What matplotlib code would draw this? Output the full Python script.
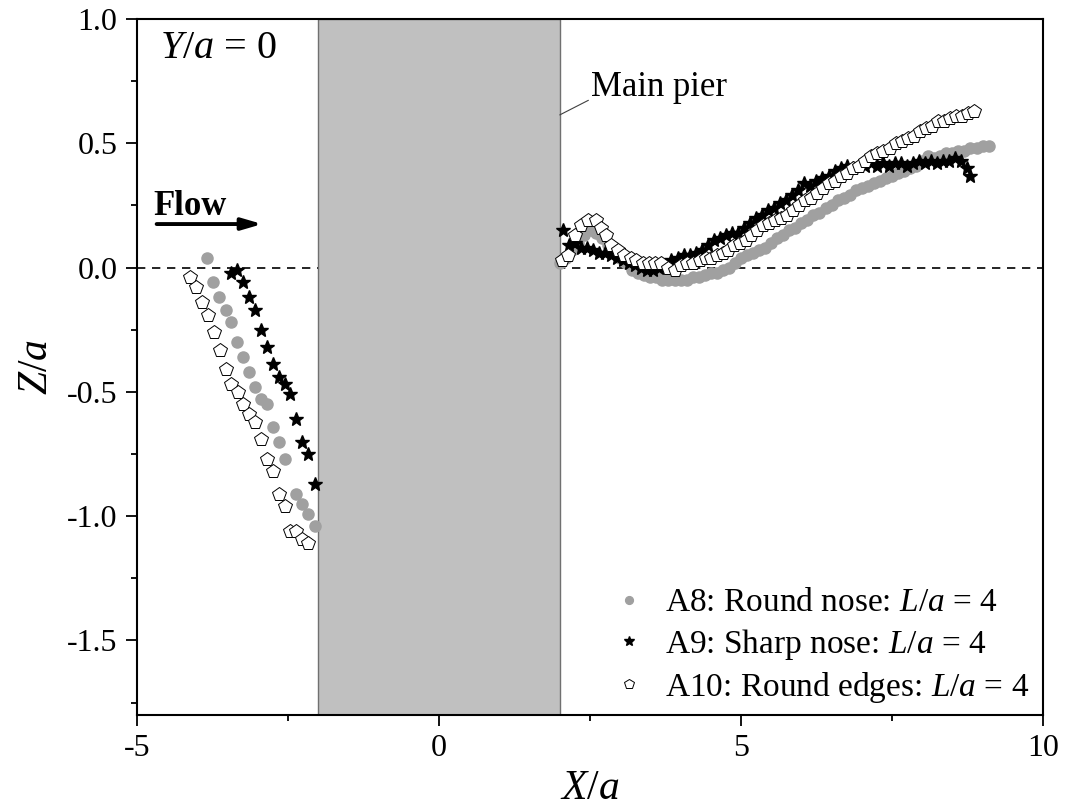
import matplotlib.pyplot as plt
from matplotlib.ticker import MultipleLocator

plt.rcParams["font.family"] = ["Liberation Serif", "DejaVu Serif"]
plt.rcParams["mathtext.fontset"] = "custom"
plt.rcParams["mathtext.it"] = "Liberation Serif:italic"
plt.rcParams["mathtext.rm"] = "Liberation Serif"
plt.rcParams["axes.unicode_minus"] = False

# A8: round nose (upstream side, then downstream side)
a8_x_up = [-3.84, -3.74, -3.64, -3.53, -3.44, -3.34, -3.25, -3.15, -3.05, -2.95,
           -2.85, -2.75, -2.65, -2.55, -2.36, -2.26, -2.16, -2.06]
a8_z_up = [0.04, -0.06, -0.12, -0.17, -0.22, -0.30, -0.36, -0.42, -0.48, -0.53,
           -0.55, -0.64, -0.70, -0.77, -0.91, -0.95, -0.99, -1.04]
a8_x_dn = [2.0, 2.1, 2.2, 2.3, 2.4, 2.5, 2.6, 2.7, 2.8, 2.9,
           3.0, 3.1, 3.2, 3.3, 3.4, 3.5, 3.6, 3.7, 3.8, 3.9,
           4.0, 4.1, 4.2, 4.3, 4.4, 4.5, 4.6, 4.7, 4.8, 4.9,
           5.0, 5.1, 5.2, 5.3, 5.4, 5.5, 5.6, 5.7, 5.8, 5.9,
           6.0, 6.1, 6.2, 6.3, 6.4, 6.5, 6.6, 6.7, 6.8, 6.9,
           7.0, 7.1, 7.2, 7.3, 7.4, 7.5, 7.6, 7.7, 7.8, 7.9,
           8.0, 8.1, 8.2, 8.3, 8.4, 8.5, 8.6, 8.7, 8.8, 8.9, 9.0, 9.1]
a8_z_dn = [0.02, 0.04, 0.07, 0.10, 0.13, 0.15, 0.14, 0.12, 0.09, 0.06,
           0.04, 0.02, -0.01, -0.02, -0.03, -0.04, -0.04, -0.05, -0.05, -0.05,
           -0.05, -0.05, -0.04, -0.04, -0.03, -0.02, -0.02, -0.01, 0.00, 0.02,
           0.04, 0.05, 0.06, 0.07, 0.08, 0.10, 0.12, 0.13, 0.15, 0.16,
           0.18, 0.19, 0.21, 0.22, 0.24, 0.25, 0.27, 0.28, 0.29, 0.31,
           0.32, 0.33, 0.34, 0.35, 0.36, 0.37, 0.38, 0.39, 0.40, 0.41,
           0.43, 0.45, 0.44, 0.45, 0.46, 0.46, 0.47, 0.47, 0.48, 0.48, 0.49, 0.49]

# A9: sharp nose
a9_x_up = [-3.44, -3.35, -3.25, -3.15, -3.04, -2.95, -2.85, -2.75, -2.65, -2.55,
           -2.46, -2.36, -2.26, -2.16, -2.06]
a9_z_up = [-0.02, -0.01, -0.06, -0.12, -0.17, -0.25, -0.32, -0.39, -0.44, -0.47,
           -0.51, -0.61, -0.70, -0.75, -0.87]
a9_x_dn = [2.05, 2.15, 2.25, 2.35, 2.45, 2.55, 2.65, 2.75, 2.85, 2.95,
           3.05, 3.15, 3.25, 3.35, 3.45, 3.55, 3.65, 3.75, 3.85, 3.95,
           4.05, 4.15, 4.25, 4.35, 4.45, 4.55, 4.65, 4.75, 4.85, 4.95,
           5.05, 5.15, 5.25, 5.35, 5.45, 5.55, 5.65, 5.75, 5.85, 5.95,
           6.05, 6.15, 6.25, 6.35, 6.45, 6.55, 6.65, 6.75, 6.85, 6.95,
           7.05, 7.15, 7.25, 7.35, 7.45, 7.55, 7.65, 7.75, 7.85, 7.95,
           8.05, 8.15, 8.25, 8.35, 8.45, 8.55, 8.65, 8.75, 8.80]
a9_z_dn = [0.15, 0.09, 0.10, 0.08, 0.08, 0.07, 0.06, 0.06, 0.05, 0.04,
           0.03, 0.02, 0.01, 0.00, -0.01, -0.01, 0.00, 0.01, 0.03, 0.04,
           0.05, 0.05, 0.06, 0.07, 0.09, 0.11, 0.12, 0.13, 0.14, 0.14,
           0.16, 0.18, 0.20, 0.21, 0.23, 0.24, 0.26, 0.27, 0.29, 0.31,
           0.34, 0.33, 0.35, 0.36, 0.37, 0.39, 0.40, 0.41, 0.40, 0.41,
           0.41, 0.42, 0.41, 0.42, 0.41, 0.42, 0.42, 0.41, 0.42, 0.43,
           0.42, 0.43, 0.42, 0.43, 0.43, 0.44, 0.43, 0.40, 0.37]

# A10: round edges
a10_x_up = [-4.12, -4.02, -3.92, -3.82, -3.73, -3.63, -3.53, -3.44, -3.33, -3.24,
            -3.14, -3.04, -2.95, -2.85, -2.75, -2.65, -2.55, -2.46, -2.36, -2.26, -2.16]
a10_z_up = [-0.04, -0.08, -0.14, -0.19, -0.26, -0.33, -0.41, -0.47, -0.50, -0.55,
            -0.59, -0.62, -0.69, -0.77, -0.82, -0.91, -0.96, -1.06, -1.06, -1.09, -1.11]
a10_x_dn = [2.03, 2.14, 2.25, 2.35, 2.47, 2.60, 2.69, 2.77, 2.85, 2.96,
            3.07, 3.18, 3.27, 3.38, 3.48, 3.58, 3.68, 3.79, 3.90, 4.00,
            4.10, 4.20, 4.32, 4.42, 4.51, 4.60, 4.70, 4.79, 4.88, 4.98,
            5.08, 5.17, 5.27, 5.37, 5.47, 5.56, 5.66, 5.76, 5.86, 5.96,
            6.06, 6.16, 6.26, 6.36, 6.46, 6.56, 6.66, 6.76, 6.86, 6.96,
            7.06, 7.16, 7.26, 7.36, 7.46, 7.56, 7.66, 7.76, 7.86, 7.96,
            8.06, 8.16, 8.26, 8.36, 8.46, 8.56, 8.66, 8.76, 8.86]
a10_z_dn = [0.03, 0.05, 0.13, 0.17, 0.19, 0.19, 0.16, 0.13, 0.09, 0.07,
            0.05, 0.04, 0.03, 0.02, 0.02, 0.02, 0.02, 0.00, -0.01, 0.01,
            0.02, 0.02, 0.03, 0.04, 0.04, 0.05, 0.06, 0.07, 0.09, 0.10,
            0.11, 0.13, 0.15, 0.17, 0.18, 0.19, 0.20, 0.21, 0.23, 0.25,
            0.27, 0.28, 0.30, 0.32, 0.34, 0.35, 0.37, 0.38, 0.40, 0.41,
            0.43, 0.45, 0.46, 0.47, 0.48, 0.50, 0.51, 0.52, 0.53, 0.55,
            0.56, 0.57, 0.59, 0.59, 0.60, 0.61, 0.61, 0.62, 0.63]

pier_x = [-2.0, 2.0]

fig = plt.figure(figsize=(10.65, 8.07), dpi=100)
ax = fig.add_axes([0.1286, 0.114, 0.8507, 0.8625])

ax.axhline(0, color="black", linestyle=(0, (5, 4)), linewidth=1.2, zorder=1)
ax.axvspan(pier_x[0], pier_x[1], facecolor="#c0c0c0", edgecolor="#707070",
           linewidth=1.0, zorder=2)

ax.plot(a8_x_up + a8_x_dn, a8_z_up + a8_z_dn, "o", color="#a0a0a0", ms=8,
        mec="#a0a0a0", label="A8: Round nose: $L/a$ = 4", zorder=3)
ax.plot(a9_x_up + a9_x_dn, a9_z_up + a9_z_dn, "*", color="black", ms=10,
        label="A9: Sharp nose: $L/a$ = 4", zorder=4)
ax.plot(a10_x_up + a10_x_dn, a10_z_up + a10_z_dn, "p", mfc="white", mec="black",
        mew=0.7, ms=10, label="A10: Round edges: $L/a$ = 4", zorder=5)

ax.set_xlim(-5, 10)
ax.set_ylim(-1.8, 1.0)
ax.xaxis.set_major_locator(MultipleLocator(5))
ax.xaxis.set_minor_locator(MultipleLocator(2.5))
ax.yaxis.set_major_locator(MultipleLocator(0.5))
ax.yaxis.set_minor_locator(MultipleLocator(0.25))
ax.yaxis.set_major_formatter(plt.FuncFormatter(lambda v, _: f"{v:.1f}"))
ax.tick_params(which="major", direction="out", length=8, width=1.3, labelsize=23)
ax.tick_params(which="minor", direction="out", length=4, width=1.3)
ax.tick_params(axis="x", pad=6)
ax.tick_params(axis="y", pad=6)
for s in ax.spines.values():
    s.set_linewidth(1.5)

ax.set_xlabel("$X/a$", fontsize=30, labelpad=4)
ax.set_ylabel("$Z/a$", fontsize=30, labelpad=8)

ax.text(-4.62, 0.88, "$Y/a$ = 0", fontsize=29, va="center", ha="left")
ax.text(-4.72, 0.245, "Flow", fontsize=25, fontweight="bold", va="center", ha="left")
ax.annotate("", xy=(-2.88, 0.175), xytext=(-4.72, 0.175),
            arrowprops=dict(arrowstyle="-|>,head_length=1.2,head_width=0.35",
                            color="black", lw=2.8))
ax.annotate("Main pier", xy=(2.0, 0.614), xytext=(2.52, 0.725), fontsize=25,
            va="center", ha="left",
            arrowprops=dict(arrowstyle="-", color="#404040", lw=0.8,
                            shrinkA=0, shrinkB=0, relpos=(0.0, 0.15)))

ax.legend(loc="lower right", frameon=False, fontsize=24, handletextpad=0.3,
          borderaxespad=0.0, labelspacing=0.25, markerscale=0.7,
          handlelength=1.6, bbox_to_anchor=(1.0, -0.005))

fig.savefig("out.png", dpi=100)
